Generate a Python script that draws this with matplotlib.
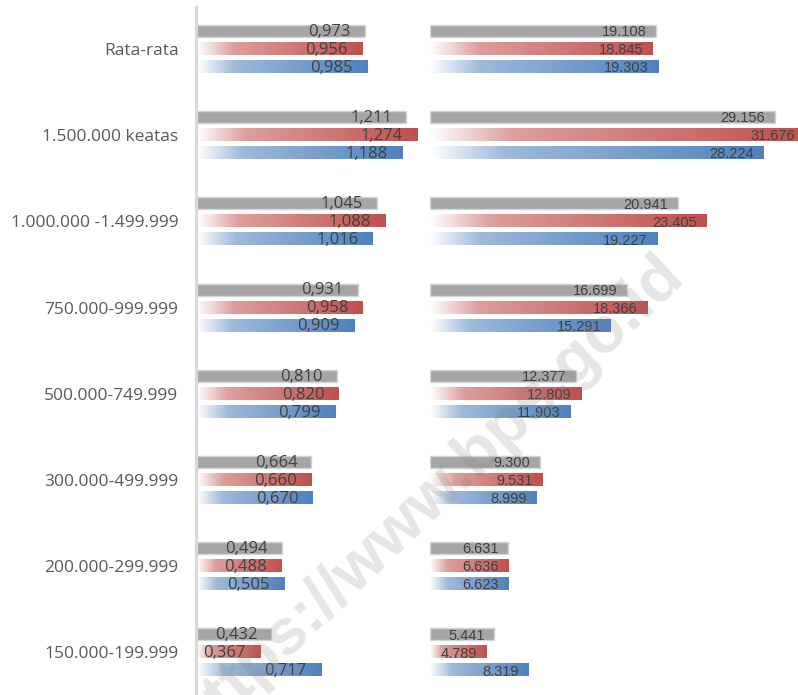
import numpy as np
import matplotlib
matplotlib.use('Agg')
import matplotlib.pyplot as plt
from matplotlib.colors import LinearSegmentedColormap, to_rgb
from matplotlib.lines import Line2D

# 数据
categories = ['Rata-rata', '1.500.000 keatas', '1.000.000 -1.499.999', '750.000-999.999',
              '500.000-749.999', '300.000-499.999', '200.000-299.999', '150.000-199.999']
left_gray = [0.973, 1.211, 1.045, 0.931, 0.810, 0.664, 0.494, 0.432]
left_red = [0.956, 1.274, 1.088, 0.958, 0.820, 0.660, 0.488, 0.367]
left_blue = [0.985, 1.188, 1.016, 0.909, 0.799, 0.670, 0.505, 0.717]
right_gray = [19.108, 29.156, 20.941, 16.699, 12.377, 9.300, 6.631, 5.441]
right_red = [18.845, 31.676, 23.405, 18.366, 12.809, 9.531, 6.636, 4.789]
right_blue = [19.303, 28.224, 19.227, 15.291, 11.903, 8.999, 6.623, 8.319]

W, H = 798, 695
GRAY = '#A5A5A5'
RED = '#C0504D'
BLUE = '#4F81BD'
TXT = '#404040'


def grad_cmap(c):
    r = np.array(to_rgb(c))
    w = np.ones(3)
    return LinearSegmentedColormap.from_list(
        'g', [(0, w), (0.22, w * 0.45 + r * 0.55), (1, r)])


cm_red = grad_cmap(RED)
cm_blue = grad_cmap(BLUE)
ramp = np.linspace(0, 1, 256).reshape(1, -1)

fig = plt.figure(figsize=(W / 100, H / 100), dpi=100)
fig.patch.set_facecolor('white')

step = 86.2
y_top = -49 / step
y_bot = 7 + (H - 652.5) / step
off = 18 / step
bh = 12 / step
y = np.arange(len(categories))

ax1 = fig.add_axes([196.5 / W, 0, 231.5 / W, 1])
ax2 = fig.add_axes([430 / W, 0, 368 / W, 1])


def draw_bars(ax, gray, red, blue):
    for i in range(len(categories)):
        ax.barh(y[i] - off, gray[i], height=bh, color=GRAY,
                edgecolor='#D4D4D4', linewidth=1.0, zorder=2)
        ax.imshow(ramp, cmap=cm_red, extent=[0, red[i], y[i] - bh / 2, y[i] + bh / 2],
                  aspect='auto', interpolation='bilinear', zorder=2)
        ax.imshow(ramp, cmap=cm_blue, extent=[0, blue[i], y[i] + off - bh / 2, y[i] + off + bh / 2],
                  aspect='auto', interpolation='bilinear', zorder=2)
    for s in ax.spines.values():
        s.set_visible(False)
    ax.set_xticks([])


draw_bars(ax1, left_gray, left_red, left_blue)
draw_bars(ax2, right_gray, right_red, right_blue)
ax1.set_xlim(0, 231.5 / 173)
ax2.set_xlim(0, 368 / 11.82)
for ax in (ax1, ax2):
    ax.set_ylim(y_bot, y_top)

# 左侧数据标签
for i in range(len(categories)):
    for v, yy in ((left_gray[i], y[i] - off), (left_red[i], y[i]), (left_blue[i], y[i] + off)):
        ax1.annotate(f'{v:.3f}'.replace('.', ','), xy=(v, yy), xytext=(-10, -0.5),
                     textcoords='offset points', ha='right', va='center', color=TXT,
                     fontsize=12, family=['Open Sans', 'DejaVu Sans'], zorder=3)

# 右侧数据标签（窄一些的字体）
for i in range(len(categories)):
    for v, yy in ((right_gray[i], y[i] - off), (right_red[i], y[i]), (right_blue[i], y[i] + off)):
        ax2.annotate(f'{v:.3f}', xy=(v, yy), xytext=(-7, -0.8),
                     textcoords='offset points', ha='right', va='center', color=TXT,
                     fontsize=10.5, family=['Liberation Sans', 'DejaVu Sans'],
                     annotation_clip=False, zorder=3)

ax1.set_yticks(y)
ax1.set_yticklabels(categories, fontsize=12.5, family=['Open Sans', 'DejaVu Sans'], color='#595959')
ax1.tick_params(axis='y', length=0, pad=13)
ax2.set_yticks([])

# 左侧竖线
fig.add_artist(Line2D([196 / W, 196 / W], [0, 1 - 7 / H], transform=fig.transFigure,
                      color='#D9D9D9', linewidth=2.2, zorder=5))

# 水印
fig.text(429 / W, 1 - 497 / H, 'https://www.bps.go.id', rotation=43.5,
         rotation_mode='anchor', ha='center', va='center', fontsize=47,
         fontweight='bold', family=['Liberation Sans', 'DejaVu Sans'],
         color='#808080', alpha=0.2, zorder=10)

fig.savefig('out.png', dpi=100)
